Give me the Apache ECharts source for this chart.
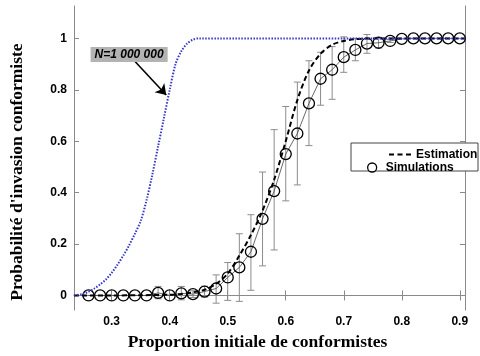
<!DOCTYPE html>
<html>
<head>
<meta charset="utf-8">
<script src="https://cdn.jsdelivr.net/npm/echarts@6.0.0/dist/echarts.min.js"></script>
<style>
  html, body { margin: 0; padding: 0; background: #fff; }
  #chart { width: 480px; height: 356px; }
</style>
</head>
<body>
<div id="chart"></div>
<script>
// tick labels
const xTicks = [0.3, 0.4, 0.5, 0.6, 0.7, 0.8, 0.9]
const yTicks = [0, 0.2, 0.4, 0.6, 0.8, 1]

// simulations (mean + error bar ends)
const simX = [0.26, 0.28, 0.30, 0.32, 0.34, 0.36, 0.38, 0.40, 0.42, 0.44, 0.46, 0.48, 0.50, 0.52, 0.54, 0.56, 0.58,
  0.60, 0.62, 0.64, 0.66, 0.68, 0.70, 0.72, 0.74, 0.76, 0.78, 0.80, 0.82, 0.84, 0.86, 0.88, 0.90]
const simY = [0, 0, 0, 0, 0, 0, 0.01, 0, 0.008, 0.005, 0.015, 0.027, 0.07, 0.109, 0.17, 0.298, 0.406,
  0.55, 0.63, 0.747, 0.843, 0.878, 0.927, 0.955, 0.98, 0.983, 0.99, 0.998, 1, 1, 1, 1, 1]
const errLow = [0, 0, 0, 0, 0, 0, -0.013, 0, -0.017, -0.008, -0.006, -0.03, -0.019, -0.023, 0.02, 0.115, 0.177,
  0.368, 0.43, 0.583, 0.74, 0.763, 0.868, 0.913, 0.942, 0.962, 0.984, 0.998, 1, 1, 1, 1, 1]
const errHigh = [0, 0, 0, 0, 0, 0, 0.035, 0, 0.035, 0.018, 0.036, 0.08, 0.128, 0.24, 0.314, 0.48, 0.645,
  0.735, 0.83, 0.913, 0.946, 0.968, 1.006, 1.0, 1.015, 1.004, 0.996, 0.998, 1, 1, 1, 1, 1]

// fitted estimation (black dashed)
const estX = [0.235, 0.30, 0.35, 0.40, 0.42, 0.44, 0.46, 0.48, 0.50, 0.52, 0.54, 0.56, 0.58, 0.60, 0.62, 0.64,
  0.66, 0.68, 0.70, 0.72, 0.75, 0.909]
const estY = [0, 0, 0.001, 0.003, 0.006, 0.012, 0.022, 0.045, 0.085, 0.155, 0.235, 0.33, 0.45, 0.6, 0.76, 0.875,
  0.94, 0.975, 0.99, 0.997, 1, 1]

// N = 1 000 000 (blue dotted)
const bigX = [0.235, 0.25, 0.26, 0.27, 0.28, 0.29, 0.30, 0.31, 0.32, 0.33, 0.34, 0.35, 0.36, 0.37, 0.38, 0.39,
  0.40, 0.41, 0.42, 0.43, 0.44, 0.45, 0.909]
const bigY = [0, 0.006, 0.014, 0.027, 0.043, 0.062, 0.088, 0.12, 0.155, 0.195, 0.24, 0.29, 0.37, 0.47, 0.58, 0.69,
  0.8, 0.9, 0.95, 0.98, 0.995, 1, 1]

const annotText = 'N=1 000 000'
const annotBox = [0.33, 0.937]
const arrowFrom = [0.3386, 0.914]
const arrowTo = [0.394, 0.78]

const chart = echarts.init(document.getElementById('chart'))

const axisGray = '#8a8a8a'
const tickFont = { color: '#000', fontSize: 12, fontWeight: 'bold', fontFamily: 'Liberation Sans, Arial, sans-serif' }
const nameFont = { color: '#000', fontSize: 17.5, fontWeight: 'bold', fontFamily: 'Liberation Serif, Times New Roman, serif' }

const errData = simX
  .map((x, i) => [x, errLow[i], errHigh[i]])
  .filter(d => d[2] > d[1])

chart.setOption({
  animation: false,
  grid: { left: 73, right: 15, top: 6, bottom: 43 },
  xAxis: [
    {
      type: 'value',
      min: 0.235,
      max: 0.909,
      name: 'Proportion initiale de conformistes',
      nameLocation: 'middle',
      nameGap: 20,
      nameTextStyle: { ...nameFont, padding: [0, 24, 0, 0] },
      axisLine: { lineStyle: { color: axisGray } },
      axisTick: { inside: true, length: 5, lineStyle: { color: axisGray }, customValues: xTicks },
      axisLabel: { ...tickFont, margin: 6, customValues: xTicks, formatter: v => String(v) },
      splitLine: { show: false },
    },
    {
      type: 'value',
      position: 'top',
      min: 0.235,
      max: 0.909,
      axisLine: { lineStyle: { color: axisGray } },
      axisTick: { inside: true, length: 5, lineStyle: { color: axisGray }, customValues: xTicks },
      axisLabel: { show: false },
      splitLine: { show: false },
    },
  ],
  yAxis: [
    {
      type: 'value',
      min: -0.057,
      max: 1.126,
      name: "Probabilité d'invasion conformiste",
      nameLocation: 'middle',
      nameGap: 48,
      nameTextStyle: { ...nameFont, padding: [0, 28, 0, 0] },
      axisLine: { show: true, lineStyle: { color: axisGray } },
      axisTick: { show: true, inside: true, length: 5, lineStyle: { color: axisGray }, customValues: yTicks },
      axisLabel: { ...tickFont, margin: 7, customValues: yTicks, formatter: v => String(v) },
      splitLine: { show: false },
    },
    {
      type: 'value',
      position: 'right',
      min: -0.057,
      max: 1.126,
      axisLine: { show: true, lineStyle: { color: axisGray } },
      axisTick: { show: true, inside: true, length: 5, lineStyle: { color: axisGray }, customValues: yTicks },
      axisLabel: { show: false },
      splitLine: { show: false },
    },
  ],
  legend: [
    {
      z: 60,
      left: 389,
      top: 148.5,
      padding: 0,
      itemWidth: 22,
      itemHeight: 2,
      textStyle: tickFont,
      data: [{
        name: 'Estimation',
        icon: 'path://M0,0H5V2H0Z M8.5,0H13.5V2H8.5Z M17,0H22V2H17Z',
        itemStyle: { color: '#000' },
      }],
    },
    {
      z: 60,
      left: 367,
      top: 161.5,
      padding: 0,
      itemWidth: 17,
      itemHeight: 9,
      textStyle: tickFont,
      data: [{
        name: 'Simulations',
        icon: 'circle',
        itemStyle: { color: '#fff', borderColor: '#000', borderWidth: 1.3 },
      }],
    },
  ],
  graphic: [
    {
      type: 'rect',
      z: 50,
      shape: { x: 351, y: 143, width: 127, height: 28 },
      style: { fill: '#fff', stroke: '#444', lineWidth: 1 },
    },
  ],
  series: [
    {
      name: 'errorbars',
      type: 'custom',
      data: errData,
      encode: { x: 0, y: [1, 2] },
      silent: true,
      z: 2,
      renderItem: (params, api) => {
        const x = api.value(0)
        const lo = api.coord([x, api.value(1)])
        const hi = api.coord([x, api.value(2)])
        const cap = 3.5
        const style = { stroke: '#8c8c8c', lineWidth: 1 }
        return {
          type: 'group',
          children: [
            { type: 'line', shape: { x1: lo[0], y1: lo[1], x2: hi[0], y2: hi[1] }, style },
            { type: 'line', shape: { x1: hi[0] - cap, y1: hi[1], x2: hi[0] + cap, y2: hi[1] }, style },
            { type: 'line', shape: { x1: lo[0] - cap, y1: lo[1], x2: lo[0] + cap, y2: lo[1] }, style },
          ],
        }
      },
    },
    {
      name: 'Simulations',
      type: 'line',
      data: simX.map((x, i) => [x, simY[i]]),
      z: 3,
      symbol: 'circle',
      symbolSize: 11,
      itemStyle: { color: 'transparent', borderColor: '#000', borderWidth: 1.3 },
      lineStyle: { color: '#444', width: 0.8 },
    },
    {
      name: 'Estimation',
      type: 'line',
      data: estX.map((x, i) => [x, estY[i]]),
      z: 4,
      symbol: 'none',
      smooth: 0.3,
      lineStyle: { color: '#000', width: 2, type: [5, 3] },
    },
    {
      name: 'N=1 000 000',
      type: 'line',
      data: bigX.map((x, i) => [x, bigY[i]]),
      z: 5,
      symbol: 'none',
      smooth: 0.3,
      lineStyle: { color: '#3636c8', width: 2, type: [1.5, 1.5] },
      markLine: {
        silent: true,
        symbol: ['none', 'arrow'],
        symbolSize: 10,
        label: { show: false },
        lineStyle: { color: '#000', width: 1.6, type: 'solid' },
        data: [[{ coord: arrowFrom }, { coord: arrowTo }]],
      },
      markPoint: {
        silent: true,
        symbol: 'rect',
        symbolSize: 0,
        data: [{ coord: annotBox }],
        label: {
          show: true,
          position: 'inside',
          formatter: annotText,
          color: '#000',
          fontSize: 12,
          fontWeight: 'bold',
          fontStyle: 'italic',
          fontFamily: 'Liberation Sans, Arial, sans-serif',
          backgroundColor: '#b3b3b3',
          padding: [2, 4, 1, 4],
        },
      },
    },
  ],
})
</script>
</body>
</html>
